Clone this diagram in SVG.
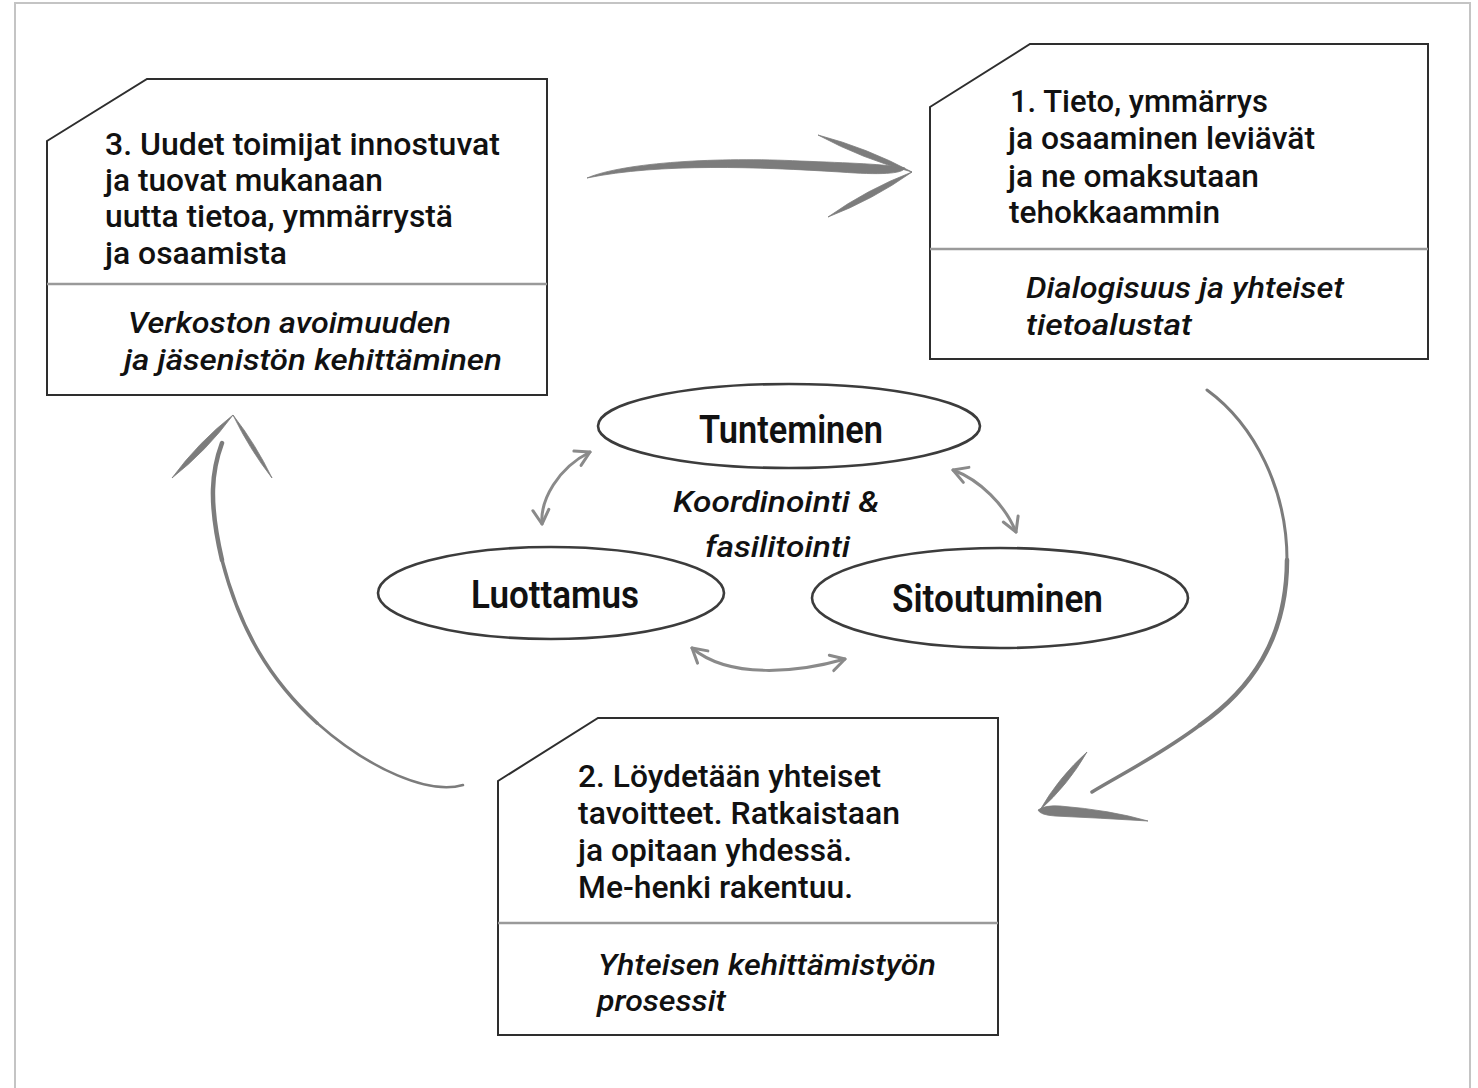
<svg xmlns="http://www.w3.org/2000/svg" width="1478" height="1088" viewBox="0 0 1478 1088">
<defs>
<style>
.frame{stroke:#c4c4c4;stroke-width:2;fill:none}
.box{fill:#fff;stroke:#2e2e2e;stroke-width:2}
.div{stroke:#9a9a9a;stroke-width:2.5}
.oval{fill:#fff;stroke:#3c3c3c;stroke-width:2.6}
.t{font-family:Roboto,"Liberation Sans",sans-serif;font-size:32px;font-weight:500;fill:#111}
.i{font-family:Roboto,"Liberation Sans",sans-serif;font-size:30px;font-weight:500;font-style:italic;fill:#111}
.o{font-family:Roboto,"Liberation Sans",sans-serif;font-size:38px;font-weight:600;fill:#111}
.brush{fill:#7c7c7c;stroke:#7c7c7c;stroke-width:0.8;stroke-linejoin:round}
.shaft{fill:none;stroke:#7c7c7c;stroke-linecap:round}
.small{fill:none;stroke:#8a8a8a;stroke-width:3;stroke-linecap:round}
</style>
<marker id="vh" viewBox="0 0 20 20" refX="17" refY="10" markerWidth="20" markerHeight="20" markerUnits="userSpaceOnUse" orient="auto-start-reverse">
<path d="M3,2 L17,10 L3,18" fill="none" stroke="#8a8a8a" stroke-width="3" stroke-linecap="round" stroke-linejoin="round"/>
</marker>
</defs>
<rect width="1478" height="1088" fill="#fff"/>
<g id="frame">
<path class="frame" d="M15,1088 L15,3 L1470,3 L1470,1088"/>
</g>

<g id="connectors">
<!-- top arrow box3 -> box1 -->
<path class="brush" d="M587,178 C625,162 720,157 800,161 C850,163 885,164 905,168 C902,174 880,175 840,172 C760,167 660,163 587,178 Z"/>
<path class="brush" d="M818,135 Q862.8,159.1 912,172 Q867.2,147.9 818,135 Z"/>
<path class="brush" d="M912,172 Q867.2,189.2 828,217 Q872.8,199.8 912,172 Z"/>
<!-- right big arrow box1 -> box2 -->
<path class="shaft" stroke-width="3" d="M1207,390 C1255,425 1287,490 1287,560"/>
<path class="shaft" stroke-width="4.5" d="M1287,560 C1287,640 1250,690 1200,725"/>
<path class="shaft" stroke-width="3.5" d="M1200,725 C1160,755 1120,775 1092,792"/>
<path class="brush" d="M1087,752 Q1058.8,777.2 1040,810 Q1068.2,784.8 1087,752 Z"/>
<path class="brush" d="M1038,810 Q1045,805 1060,806 Q1110,810 1148,821 Q1100,818 1055,816 Q1040,815 1038,810 Z"/>
<!-- left big arrow box2 -> box3 -->
<path class="shaft" stroke-width="2.5" d="M463,785 C430,795 370,770 317,723"/>
<path class="shaft" stroke-width="3.5" d="M317,723 C270,680 240,630 222,560"/>
<path class="shaft" stroke-width="4.5" d="M222,560 C208,500 212,470 222,443"/>
<path class="brush" d="M172,478 Q206.8,450.7 233,415 Q198.2,442.3 172,478 Z"/>
<path class="brush" d="M233,415 Q249.1,448.6 272,478 Q255.9,444.4 233,415 Z"/>
<!-- small double arrows -->
<path class="small" marker-start="url(#vh)" marker-end="url(#vh)" d="M542,524 C540,500 558,468 590,452"/>
<path class="small" marker-start="url(#vh)" marker-end="url(#vh)" d="M953,470 C980,480 1005,505 1016,532"/>
<path class="small" marker-start="url(#vh)" marker-end="url(#vh)" d="M692,648 C730,680 800,672 845,659"/>
</g>

<g id="box3">
<path class="box" d="M47,141 L147,79 L547,79 L547,395 L47,395 Z"/>
<line class="div" x1="47" y1="284" x2="547" y2="284"/>
<text class="t" x="105" y="155" textLength="395" lengthAdjust="spacingAndGlyphs">3. Uudet toimijat innostuvat</text>
<text class="t" x="105" y="191" textLength="278" lengthAdjust="spacingAndGlyphs">ja tuovat mukanaan</text>
<text class="t" x="105" y="227" textLength="348" lengthAdjust="spacingAndGlyphs">uutta tietoa, ymmärrystä</text>
<text class="t" x="105" y="264" textLength="182" lengthAdjust="spacingAndGlyphs">ja osaamista</text>
<text class="i" x="128" y="333" textLength="323" lengthAdjust="spacingAndGlyphs">Verkoston avoimuuden</text>
<text class="i" x="124" y="370" textLength="378" lengthAdjust="spacingAndGlyphs">ja jäsenistön kehittäminen</text>
</g>

<g id="box1">
<path class="box" d="M930,107 L1030,44 L1428,44 L1428,359 L930,359 Z"/>
<line class="div" x1="930" y1="249" x2="1428" y2="249"/>
<text class="t" x="1010" y="112" textLength="258" lengthAdjust="spacingAndGlyphs">1. Tieto, ymmärrys</text>
<text class="t" x="1008" y="149" textLength="307" lengthAdjust="spacingAndGlyphs">ja osaaminen leviävät</text>
<text class="t" x="1008" y="187" textLength="251" lengthAdjust="spacingAndGlyphs">ja ne omaksutaan</text>
<text class="t" x="1009" y="223" textLength="211" lengthAdjust="spacingAndGlyphs">tehokkaammin</text>
<text class="i" x="1026" y="298" textLength="318" lengthAdjust="spacingAndGlyphs">Dialogisuus ja yhteiset</text>
<text class="i" x="1026" y="335" textLength="166" lengthAdjust="spacingAndGlyphs">tietoalustat</text>
</g>

<g id="box2">
<path class="box" d="M498,781 L598,718 L998,718 L998,1035 L498,1035 Z"/>
<line class="div" x1="498" y1="923" x2="998" y2="923"/>
<text class="t" x="578" y="787" font-size="31" textLength="303" lengthAdjust="spacingAndGlyphs">2. Löydetään yhteiset</text>
<text class="t" x="578" y="824" font-size="31" textLength="322" lengthAdjust="spacingAndGlyphs">tavoitteet. Ratkaistaan</text>
<text class="t" x="578" y="861" font-size="31" textLength="274" lengthAdjust="spacingAndGlyphs">ja opitaan yhdessä.</text>
<text class="t" x="578" y="898" font-size="31" textLength="275" lengthAdjust="spacingAndGlyphs">Me-henki rakentuu.</text>
<text class="i" x="598" y="975" textLength="338" lengthAdjust="spacingAndGlyphs">Yhteisen kehittämistyön</text>
<text class="i" x="597" y="1011" textLength="129" lengthAdjust="spacingAndGlyphs">prosessit</text>
</g>

<g id="tunteminen">
<ellipse class="oval" cx="789" cy="426" rx="191" ry="42"/>
<text class="o" x="699" y="443" textLength="184" lengthAdjust="spacingAndGlyphs">Tunteminen</text>
</g>
<g id="luottamus">
<ellipse class="oval" cx="551" cy="593" rx="173" ry="46"/>
<text class="o" x="471" y="608" textLength="168" lengthAdjust="spacingAndGlyphs">Luottamus</text>
</g>
<g id="sitoutuminen">
<ellipse class="oval" cx="1000" cy="598" rx="188" ry="50"/>
<text class="o" x="892" y="612" textLength="211" lengthAdjust="spacingAndGlyphs">Sitoutuminen</text>
</g>
<g id="center-label">
<text class="i" x="673" y="512" textLength="206" lengthAdjust="spacingAndGlyphs">Koordinointi &amp;</text>
<text class="i" x="705" y="557" textLength="145" lengthAdjust="spacingAndGlyphs">fasilitointi</text>
</g>
</svg>
